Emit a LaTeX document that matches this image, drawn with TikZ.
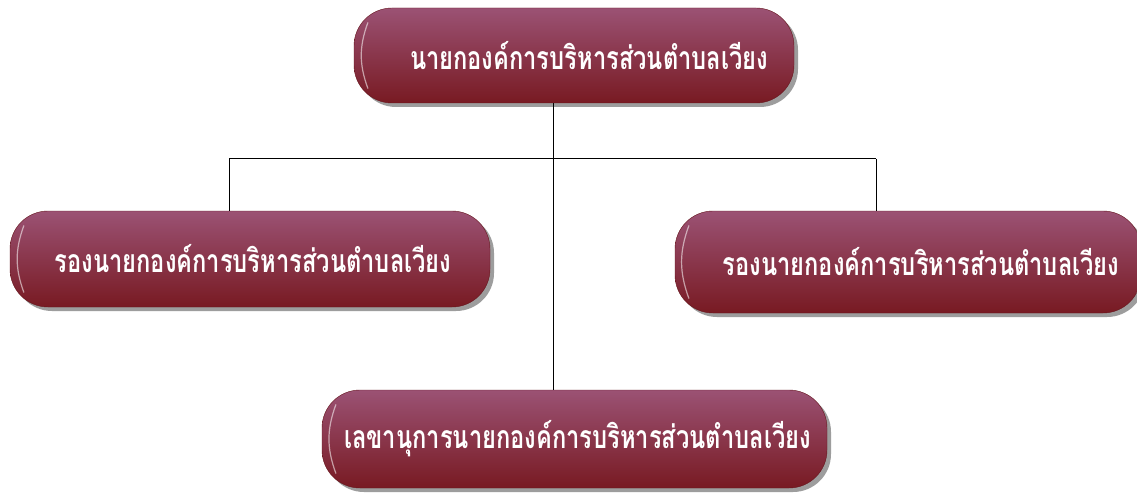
\documentclass[tikz,border=0pt]{standalone}
\usepackage{fontspec}
\newfontfamily\thaifont[Script=Thai, FakeStretch=0.74]{Loma}
\usetikzlibrary{shadows}
\definecolor{boxtop}{RGB}{155,82,116}
\definecolor{boxbot}{RGB}{120,26,34}
\definecolor{shadowgray}{RGB}{140,140,140}
\tikzset{
  orgbox/.style={rounded corners=38pt, top color=boxtop, bottom color=boxbot,
    draw=boxbot!85!black, line width=0.4pt, text=white, inner sep=0pt,
    font=\thaifont\bfseries\fontsize{32}{36}\selectfont,
    drop shadow={shadow xshift=4pt, shadow yshift=-4pt, fill=shadowgray, opacity=0.85}},
  link/.style={draw=black, line width=1pt},
  highlight/.style={draw=white, opacity=0.55, line width=1.2pt, line cap=round}
}
\begin{document}
\begin{tikzpicture}[x=1pt,y=-1pt]
\useasboundingbox[fill=white] (0,0) rectangle (1137,497);
\coordinate (trunk) at (553,159);
\coordinate (hl) at (229,159);
\coordinate (hr) at (876,159);
\node[orgbox, minimum width=440pt, minimum height=95pt] (top) at (574,55.5) {\hspace*{30pt}นายกองค์การบริหารส่วนตำบลเวียง};
\node[orgbox, minimum width=480pt, minimum height=96pt] (left) at (250,259) {\hspace*{6pt}รองนายกองค์การบริหารส่วนตำบลเวียง};
\node[orgbox, minimum width=466pt, minimum height=102pt] (right) at (908,262) {\hspace*{26pt}รองนายกองค์การบริหารส่วนตำบลเวียง};
\node[orgbox, minimum width=505pt, minimum height=98pt] (bot) at (574.5,439) {\hspace*{6pt}เลขานุการนายกองค์การบริหารส่วนตำบลเวียง};
\draw[link] (trunk |- top.south) -- (trunk |- bot.north);
\draw[link] (hl) -- (hr);
\draw[link] (hl) -- (hl |- left.north);
\draw[link] (hr) -- (hr |- right.north);
\foreach \b in {top,left,right,bot}{
  \draw[highlight] ([xshift=14pt,yshift=-15pt]\b.north west) to[out=250,in=110] ([xshift=14pt,yshift=15pt]\b.south west);
}
\end{tikzpicture}
\end{document}
